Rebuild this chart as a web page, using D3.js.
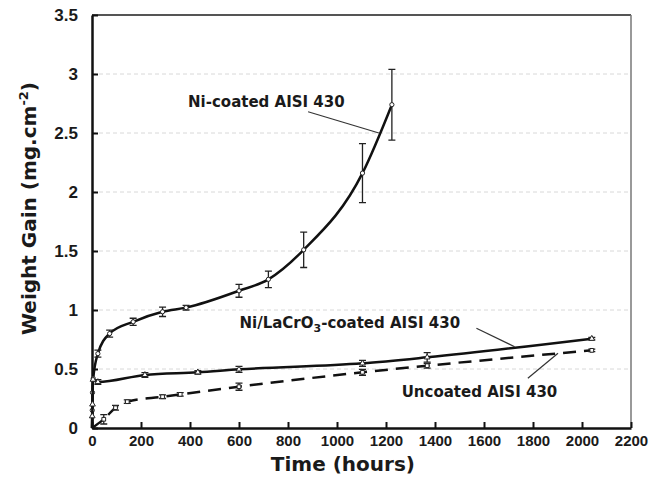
<!DOCTYPE html>
<html>
<head>
<meta charset="utf-8">
<script src="https://cdn.jsdelivr.net/npm/d3@7"></script>
<style>
  body { margin: 0; background: #fff; }
  text { font-family: "Liberation Sans", Arial, sans-serif; font-weight: bold; fill: #1a1a1a; }
  .wide { font-family: "DejaVu Sans", Verdana, sans-serif; }
</style>
</head>
<body>
<div id="chart"></div>
<script>
// datos: [horas, ganancia, error]
const niCoated = [
  [0, 0, 0], [1, 0.15, 0], [2, 0.3, 0], [5, 0.42, 0],
  [24, 0.63, 0.03], [72, 0.80, 0.03], [168, 0.90, 0.03], [288, 0.985, 0.04],
  [384, 1.02, 0.02], [600, 1.163, 0.055], [720, 1.26, 0.07], [864, 1.51, 0.15],
  [1104, 2.16, 0.25], [1224, 2.74, 0.30]
];
const niLaCrO3 = [
  [0, 0, 0], [1, 0.1, 0], [2, 0.2, 0], [4, 0.41, 0],
  [24, 0.39, 0.02], [216, 0.45, 0.02], [432, 0.472, 0.015], [600, 0.497, 0.025],
  [1104, 0.548, 0.025], [1368, 0.599, 0.04], [2040, 0.757, 0.01]
];
const uncoated = [
  [0, 0, 0], [48, 0.074, 0.04], [96, 0.172, 0.02], [144, 0.223, 0.015],
  [288, 0.265, 0.015], [360, 0.285, 0.015], [600, 0.35, 0.03],
  [1104, 0.472, 0.025], [1368, 0.528, 0.02], [2040, 0.658, 0.01]
];

const xTicks = d3.range(0, 2201, 200);
const yTicks = [0, 0.5, 1, 1.5, 2, 2.5, 3, 3.5];
const yTickLabels = ["0", "0.5", "1", "1.5", "2", "2.5", "3", "3.5"];

// etiquetas: [texto, x, y] en unidades de datos, linea guia [x1,y1,x2,y2]
const labels = [
  { text: "Ni-coated AISI 430", x: 392, y: 2.72, lead: [882, 2.68, 1171, 2.50] },
  { text: "Ni/LaCrO3-coated AISI 430", x: 602, y: 0.847, lead: [1569, 0.845, 1725, 0.689] },
  { text: "Uncoated AISI 430", x: 1264, y: 0.265, lead: [1779, 0.421, 1902, 0.633] }
];

const WIDTH = 662, HEIGHT = 484;
const MARGIN = { top: 15, right: 31, bottom: 56, left: 92 };

const svg = d3.select("#chart").append("svg")
  .attr("width", WIDTH).attr("height", HEIGHT);

const x = d3.scaleLinear().domain([0, 2200]).range([MARGIN.left, WIDTH - MARGIN.right]);
const y = d3.scaleLinear().domain([0, 3.5]).range([HEIGHT - MARGIN.bottom, MARGIN.top]);

// grilla
svg.append("g").selectAll("line")
  .data(yTicks.filter(d => d > 0 && d < 3.5))
  .join("line")
  .attr("x1", x(0)).attr("x2", x(2200))
  .attr("y1", d => y(d)).attr("y2", d => y(d))
  .attr("stroke", "#d8d8d8").attr("stroke-width", 1)
  .attr("stroke-dasharray", "4,3");

// marco superior y derecho
svg.append("line")
  .attr("x1", x(0)).attr("x2", x(2200)).attr("y1", y(3.5)).attr("y2", y(3.5))
  .attr("stroke", "#555").attr("stroke-width", 2);
svg.append("line")
  .attr("x1", x(2200)).attr("x2", x(2200)).attr("y1", y(3.5)).attr("y2", y(0))
  .attr("stroke", "#777").attr("stroke-width", 1.5);

// ejes
const xAxis = svg.append("g")
  .attr("transform", `translate(0,${y(0)})`)
  .call(d3.axisBottom(x).tickValues(xTicks).tickFormat(d3.format("d"))
    .tickSizeInner(-6).tickSizeOuter(0).tickPadding(7));
xAxis.select(".domain").attr("stroke", "#111").attr("stroke-width", 2.5);
xAxis.selectAll(".tick line").attr("stroke", "#111").attr("stroke-width", 2);
xAxis.selectAll("text").style("font-size", "15px").attr("fill", "#1a1a1a");

const yAxis = svg.append("g")
  .attr("transform", `translate(${x(0)},0)`)
  .call(d3.axisLeft(y).tickValues(yTicks).tickFormat((d, i) => yTickLabels[i])
    .tickSizeInner(-6).tickSizeOuter(0).tickPadding(14));
yAxis.select(".domain").attr("stroke", "#111").attr("stroke-width", 2.5);
yAxis.selectAll(".tick line").attr("stroke", "#111").attr("stroke-width", 2);
yAxis.selectAll("text").style("font-size", "17px").attr("fill", "#1a1a1a");

// titulos de ejes
svg.append("text")
  .attr("class", "wide")
  .attr("x", x(1024)).attr("y", 471)
  .attr("text-anchor", "middle").style("font-size", "20px")
  .text("Time (hours)");

const yt = svg.append("text")
  .attr("class", "wide")
  .attr("transform", `translate(36,${y(1.86)}) rotate(-90)`)
  .attr("text-anchor", "middle").style("font-size", "20px");
yt.append("tspan").text("Weight Gain (mg.cm");
yt.append("tspan").attr("dy", -8).style("font-size", "13px").text("-2");
yt.append("tspan").attr("dy", 8).text(")");

// curvas
const line = d3.line()
  .x(d => x(d[0])).y(d => y(d[1]))
  .curve(d3.curveMonotoneX);

const series = [
  { data: niCoated, dash: null, marker: "circle" },
  { data: niLaCrO3, dash: null, marker: "triangle" },
  { data: uncoated, dash: "13,8", marker: "square" }
];

series.forEach(s => {
  svg.append("path")
    .datum(s.data)
    .attr("d", line)
    .attr("fill", "none")
    .attr("stroke", "#111")
    .attr("stroke-width", 2.5)
    .attr("stroke-dasharray", s.dash);

  const pts = s.data.filter(d => d[0] > 0);
  const g = svg.append("g");

  // barras de error
  g.selectAll(".err")
    .data(pts.filter(d => d[2] > 0))
    .join("path")
    .attr("d", d => {
      const cx = x(d[0]), t = y(d[1] + d[2]), b = y(d[1] - d[2]);
      return `M${cx - 3.5},${t}H${cx + 3.5}M${cx},${t}V${b}M${cx - 3.5},${b}H${cx + 3.5}`;
    })
    .attr("fill", "none").attr("stroke", "#222").attr("stroke-width", 1.3);

  // marcadores
  const sym = s.marker === "circle" ? d3.symbolCircle
    : s.marker === "triangle" ? d3.symbolTriangle : d3.symbolSquare;
  g.selectAll(".mk")
    .data(pts)
    .join("path")
    .attr("transform", d => `translate(${x(d[0])},${y(d[1])})`)
    .attr("d", d3.symbol().type(sym).size(14))
    .attr("fill", "#fff").attr("stroke", "#222").attr("stroke-width", 1);
});

// anotaciones
labels.forEach(l => {
  svg.append("line")
    .attr("x1", x(l.lead[0])).attr("y1", y(l.lead[1]))
    .attr("x2", x(l.lead[2])).attr("y2", y(l.lead[3]))
    .attr("stroke", "#333").attr("stroke-width", 1.2);

  const t = svg.append("text")
    .attr("class", "wide")
    .attr("x", x(l.x)).attr("y", y(l.y))
    .style("font-size", "15px");
  if (l.text.includes("LaCrO3")) {
    t.append("tspan").text("Ni/LaCrO");
    t.append("tspan").attr("dy", 4).style("font-size", "11px").text("3");
    t.append("tspan").attr("dy", -4).text("-coated AISI 430");
  } else {
    t.text(l.text);
  }
});
</script>
</body>
</html>
